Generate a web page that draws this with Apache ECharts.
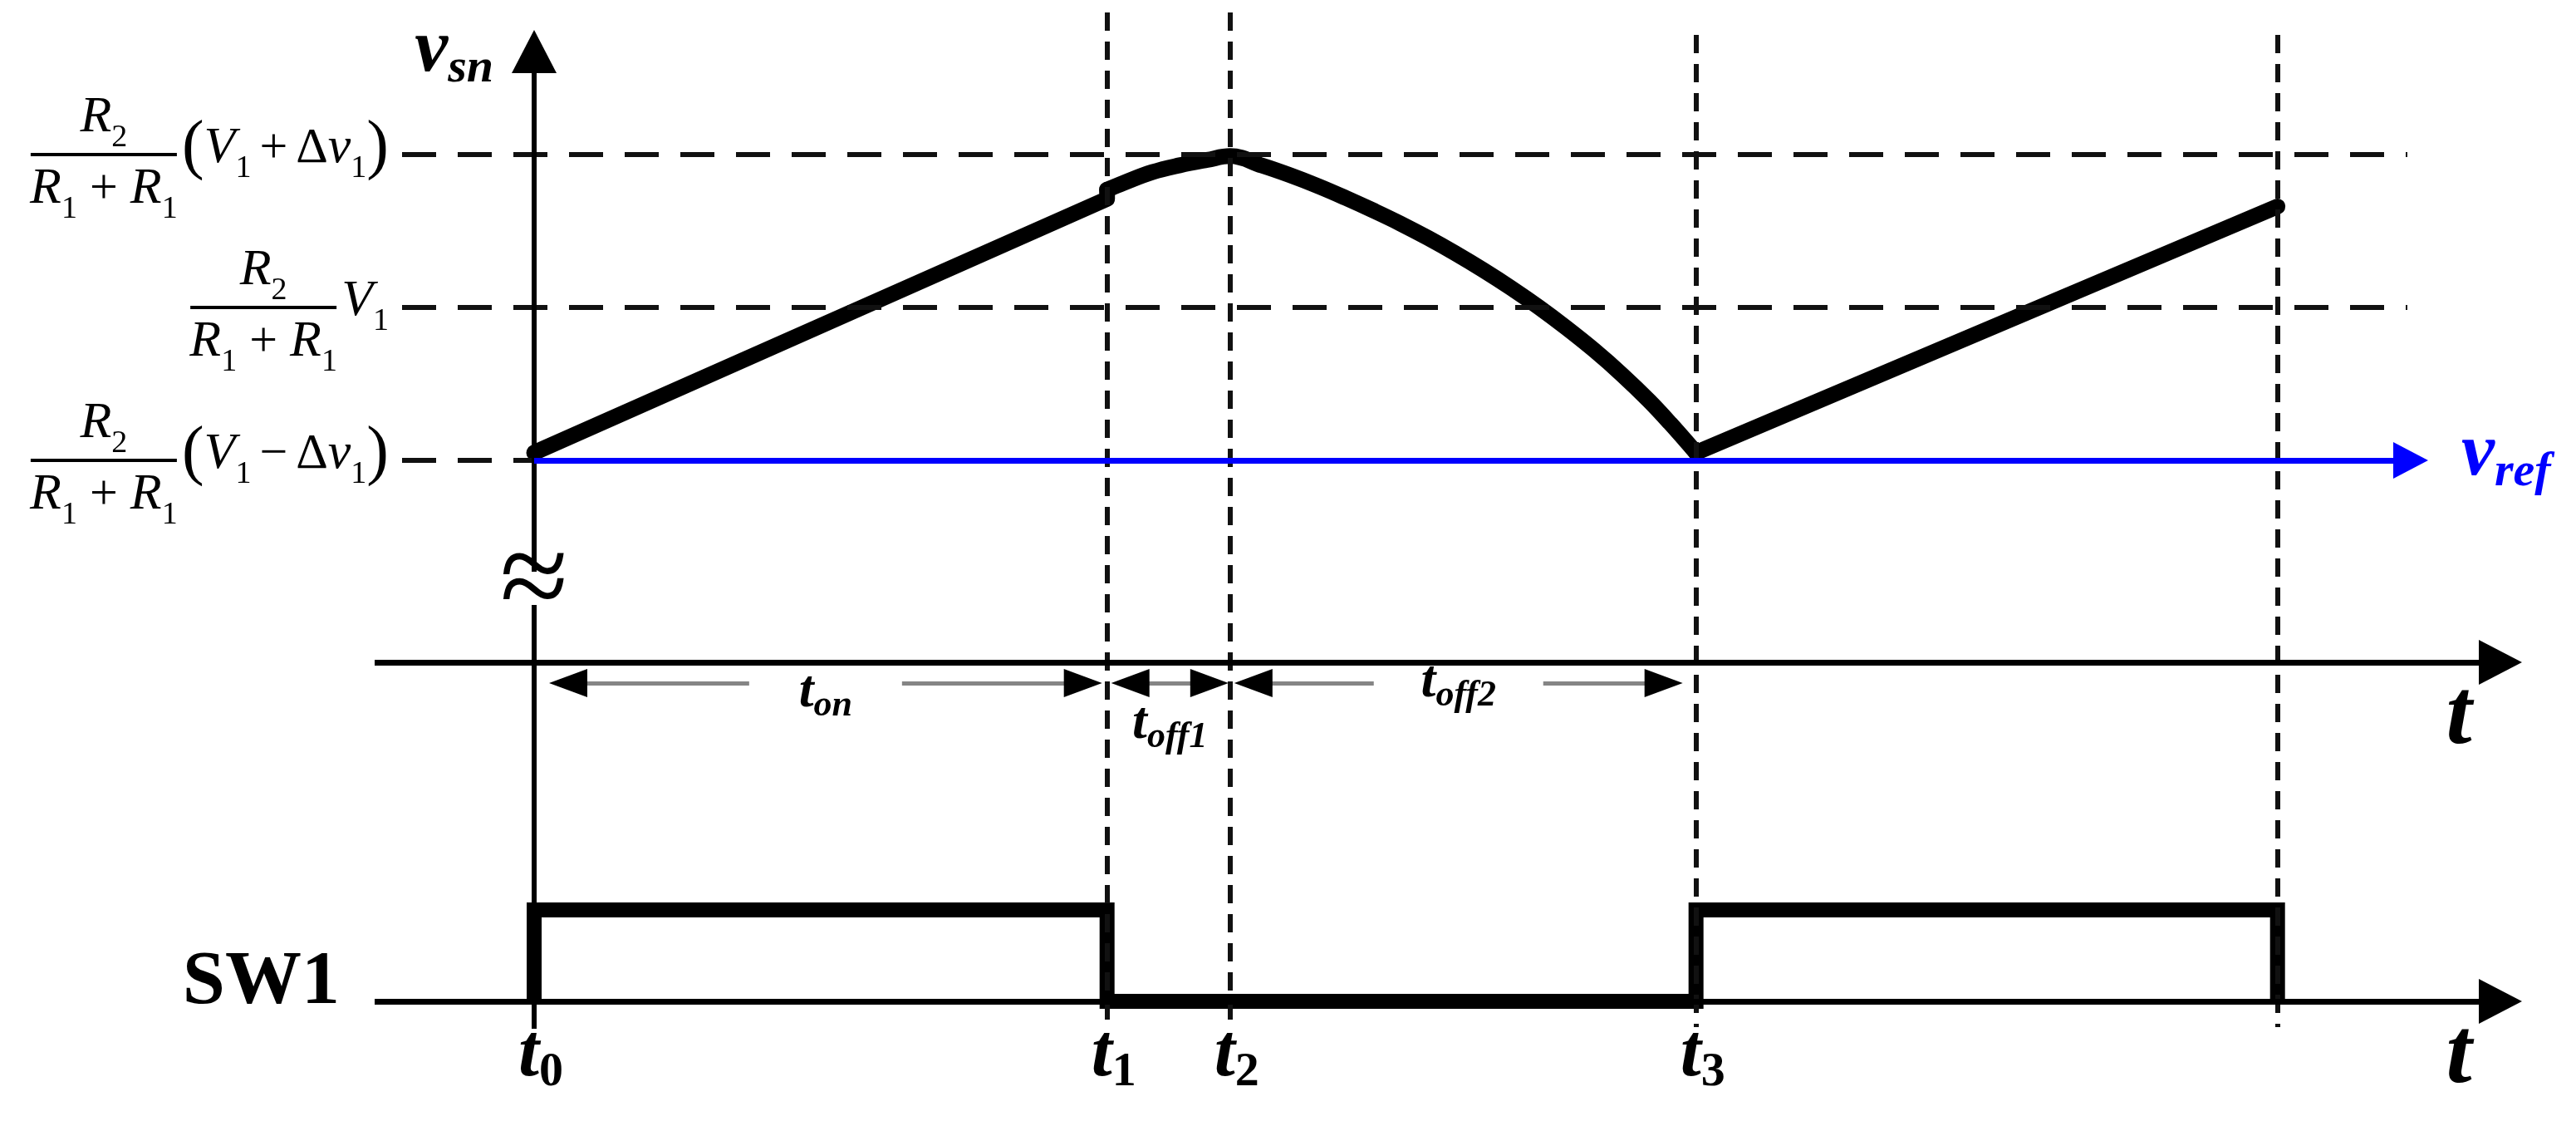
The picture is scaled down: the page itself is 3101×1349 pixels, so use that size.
<!DOCTYPE html>
<html>
<head>
<meta charset="utf-8">
<script src="https://cdn.jsdelivr.net/npm/echarts@6/dist/echarts.min.js"></script>
<style>
  html, body { margin: 0; padding: 0; background: #fff; }
  #chart { width: 3101px; height: 1349px; }
</style>
</head>
<body>
<div id="chart"></div>
<script>
// ---- values ----
// switching instants t0, t1, t2, t3 and the end of the next on-time (time units)
const tMarks = [0, 10.01, 12.16, 20.3, 30.46];
const tNames = ['0', '1', '2', '3'];
// v_sn levels, in units of Δv1 around V1: V1+Δv1, V1, V1-Δv1 (= v_ref)
const levels = [1, 0, -1];

// v_sn during t_on (ends with the small step at t1)
const rampT = [0, 10.01, 10.01];
const rampV = [-0.95, 0.71, 0.77];
// v_sn during t_off1 + t_off2
const offT = [10.01, 10.3, 10.8, 11.28, 11.76, 12.16, 12.72, 13.2, 13.69, 14.17, 14.65,
              15.14, 15.62, 16.1, 16.58, 17.07, 17.56, 18.03, 18.52, 19.0, 19.48, 19.85, 20.3];
const offV = [0.77, 0.815, 0.885, 0.93, 0.965, 0.99, 0.928, 0.866, 0.795, 0.718, 0.636,
              0.548, 0.454, 0.353, 0.245, 0.127, 0.0, -0.132, -0.279, -0.437, -0.61, -0.758, -0.95];
// v_sn during the next t_on
const ramp2T = [20.3, 30.46];
const ramp2V = [-0.95, 0.66];

// SW1 gate signal
const swT = [0, 0, 10.01, 10.01, 20.3, 20.3, 30.46, 30.46];
const swS = [0, 1, 1, 0, 0, 1, 1, 0];

const dimNames = ['on', 'off1', 'off2'];

// ---- layout (pixels) ----
const W = 3101, H = 1349;
const X0 = 643, KX = 68.9;   // px of t = 0, px per time unit
const Y0 = 370, KY = 184;    // px of V1, px per Δv1
const S0 = 1205, KS = 110;   // px of SW1 low, px per state
const ux = px => (px - X0) / KX;
const uv = py => (Y0 - py) / KY;

const AX_LEFT = 451, AX_TIP = 3036, HEAD = 52, HEAD_W = 54;
const TMID_Y = 797, DIM_Y = 822;
const YAX_TIP = 36, YAX_BOT = 1238, BREAK_TOP = 688, BREAK_BOT = 728;
const VREF_TIP = 2923;
const LVL_LEFT = 484, LVL_RIGHT = 2898;
const VL_TOP = [15, 15, 42, 42], VL_BOT = 1236;
const dimInset = [[18, 6], [5, 2], [5, 16]];
const dimGap = [184, 0, 204];
const dimDy = [11, 49, -1];

const SERIF = '"Liberation Serif", "Times New Roman", serif';
const RICH = {
  Ri: { fontFamily: SERIF, fontStyle: 'italic', fontSize: 62, fill: '#000' },
  Rs: { fontFamily: SERIF, fontSize: 38, padding: [48, 0, 0, 0], fill: '#000' },
  Ro: { fontFamily: SERIF, fontSize: 60, padding: [0, 10, 0, 10], fill: '#000' },
  Rd: { fontFamily: SERIF, fontSize: 60, padding: [0, 15, 0, 15], fill: '#000' },
  Rn: { fontFamily: SERIF, fontSize: 60, fill: '#000' },
  Rp: { fontFamily: SERIF, fontSize: 80, fill: '#000' },
  vv: { fontFamily: SERIF, fontStyle: 'italic', fontWeight: 'bold', fontSize: 90, fill: '#000' },
  vs: { fontFamily: SERIF, fontStyle: 'italic', fontWeight: 'bold', fontSize: 58, padding: [42, 0, 0, 0], fill: '#000' },
  bv: { fontFamily: SERIF, fontStyle: 'italic', fontWeight: 'bold', fontSize: 90, fill: '#0000ff' },
  bs: { fontFamily: SERIF, fontStyle: 'italic', fontWeight: 'bold', fontSize: 58, padding: [42, 0, 0, 0], fill: '#0000ff' },
  ta: { fontFamily: SERIF, fontStyle: 'italic', fontWeight: 'bold', fontSize: 112, fill: '#000' },
  tt: { fontFamily: SERIF, fontStyle: 'italic', fontWeight: 'bold', fontSize: 90, fill: '#000' },
  td: { fontFamily: SERIF, fontWeight: 'bold', fontSize: 58, padding: [40, 0, 0, 0], fill: '#000' },
  dt: { fontFamily: SERIF, fontStyle: 'italic', fontWeight: 'bold', fontSize: 64, fill: '#000' },
  ds: { fontFamily: SERIF, fontStyle: 'italic', fontWeight: 'bold', fontSize: 44, padding: [34, 0, 0, 0], fill: '#000' },
  sw: { fontFamily: SERIF, fontWeight: 'bold', fontSize: 92, fill: '#000' },
  ap: { fontFamily: SERIF, fontSize: 150, fill: '#000' }
};

const levelNumer = [['Ri', 'R'], ['Rs', '2']];
const levelDenom = [['Ri', 'R'], ['Rs', '1'], ['Rd', '+'], ['Ri', 'R'], ['Rs', '1']];
const levelFactors = [
  [['Rp', '('], ['Ri', 'V'], ['Rs', '1'], ['Ro', '+'], ['Rn', 'Δ'], ['Ri', 'v'], ['Rs', '1'], ['Rp', ')']],
  [['Ri', 'V'], ['Rs', '1']],
  [['Rp', '('], ['Ri', 'V'], ['Rs', '1'], ['Ro', '−'], ['Rn', 'Δ'], ['Ri', 'v'], ['Rs', '1'], ['Rp', ')']]
];

const mctx = document.createElement('canvas').getContext('2d');
function tokenWidth(tokens) {
  let w = 0;
  tokens.forEach(([s, t]) => {
    const st = RICH[s];
    mctx.font = (st.fontStyle || 'normal') + ' ' + (st.fontWeight || 'normal') + ' ' + st.fontSize + 'px ' + st.fontFamily;
    w += mctx.measureText(t).width;
    if (st.padding) w += st.padding[1] + st.padding[3];
  });
  return w;
}
function richText(tokens) {
  return tokens.map(([s, t]) => '{' + s + '|' + t + '}').join('');
}
function txt(x, y, tokens, align) {
  return {
    type: 'text', x: x, y: y,
    style: { text: richText(tokens), rich: RICH, align: align, verticalAlign: 'middle', fill: '#000' }
  };
}

// markLine segment, optional arrow head at the end
function seg(a, b, style, head) {
  const to = { coord: b };
  if (head) { to.symbol = 'triangle'; to.symbolSize = head; }
  return [{ coord: a, lineStyle: style }, to];
}
const solid = (w, c) => ({ type: 'solid', width: w, color: c || '#000' });
const dashH = { type: [41, 26], width: 6, color: '#111' };
const dashV = { type: [22, 13], width: 6, color: '#111' };

// guides
const guideLines = [];
levels.forEach((v, i) => {
  guideLines.push(seg([ux(LVL_LEFT), v], [i === 2 ? 0 : ux(LVL_RIGHT), v], dashH));
});
tMarks.slice(1).forEach((t, i) => {
  guideLines.push(seg([t, uv(VL_TOP[i])], [t, uv(VL_BOT)], dashV));
});

// axes, v_ref and the time-interval arrows (v_sn units)
const axisLines = [
  seg([0, uv(YAX_BOT)], [0, uv(BREAK_BOT)], solid(6)),
  seg([0, uv(BREAK_TOP)], [0, uv(YAX_TIP + HEAD / 2)], solid(6), [HEAD_W, HEAD]),
  seg([ux(AX_LEFT), uv(TMID_Y)], [ux(AX_TIP - HEAD / 2), uv(TMID_Y)], solid(7), [HEAD_W, HEAD]),
  seg([0, levels[2]], [ux(VREF_TIP - 21), levels[2]], solid(7, '#0000ff'), [44, 42])
];
const dimCenters = [];
const dimY = uv(DIM_Y);
for (let k = 0; k < 3; k++) {
  const L = X0 + KX * tMarks[k] + dimInset[k][0];
  const R = X0 + KX * tMarks[k + 1] - dimInset[k][1];
  const C = (L + R) / 2, g = dimGap[k];
  dimCenters.push(C);
  const gray = solid(5, '#858585');
  if (g > 0) {
    axisLines.push(seg([ux(L + 23), dimY], [ux(C - g / 2), dimY], gray));
    axisLines.push(seg([ux(C + g / 2), dimY], [ux(R - 23), dimY], gray));
  } else {
    axisLines.push(seg([ux(L + 23), dimY], [ux(R - 23), dimY], gray));
  }
  axisLines.push(seg([ux(L + 24), dimY], [ux(L + 23), dimY], solid(1), [34, 46]));
  axisLines.push(seg([ux(R - 24), dimY], [ux(R - 23), dimY], solid(1), [34, 46]));
}
const swAxisLines = [
  seg([ux(AX_LEFT), 0], [ux(AX_TIP - HEAD / 2), 0], solid(7), [HEAD_W, HEAD])
];

function host(yIdx, z, lines) {
  return {
    type: 'line', yAxisIndex: yIdx, data: [], z: z, silent: true, symbol: 'none',
    markLine: {
      silent: true, symbol: 'none', animation: false,
      label: { show: false }, lineStyle: solid(5),
      data: lines
    }
  };
}

// text anchored on the scales
const topLabels = [
  { at: [0, uv(YAX_TIP)], dx: -49, dy: 26, align: 'right', tokens: [['vv', 'v'], ['vs', 'sn']] },
  { at: [ux(VREF_TIP), levels[2]], dx: 40, dy: -6, align: 'left', tokens: [['bv', 'v'], ['bs', 'ref']] },
  { at: [ux(AX_TIP), uv(TMID_Y)], dx: -76, dy: 68, align: 'center', tokens: [['ta', 't']] },
  { at: [0, uv(708)], dx: 0, dy: -4, align: 'center', tokens: [['ap', '≈']] }
].concat(dimNames.map((n, k) => ({
  at: [ux(dimCenters[k]), dimY], dx: 0, dy: dimDy[k], align: 'center', tokens: [['dt', 't'], ['ds', n]]
})));
const swLabels = tMarks.slice(0, 4).map((t, i) => ({
  at: [t, 0], dx: 8, dy: 66, align: 'center', tokens: [['tt', 't'], ['td', tNames[i]]]
})).concat([
  { at: [ux(AX_LEFT), 0], dx: -42, dy: -22, align: 'right', tokens: [['sw', 'SW1']] },
  { at: [ux(AX_TIP), 0], dx: -76, dy: 68, align: 'center', tokens: [['ta', 't']] }
]);

function labelSeries(yIdx, items) {
  return {
    type: 'custom', yAxisIndex: yIdx, z: 5, silent: true, clip: false,
    data: items.map(d => d.at),
    renderItem: function (params, api) {
      const d = items[params.dataIndex];
      const p = api.coord([api.value(0), api.value(1)]);
      return txt(p[0] + d.dx, p[1] + d.dy, d.tokens, d.align);
    }
  };
}

const zip = (xs, ys) => xs.map((x, i) => [x, ys[i]]);
const curveStyle = { color: '#000', width: 19, cap: 'round', join: 'round' };

const chart = echarts.init(document.getElementById('chart'), null, { renderer: 'canvas' });
chart.setOption({
  backgroundColor: '#fff',
  animation: false,
  grid: { left: 0, right: 0, top: 0, bottom: 0 },
  xAxis: { type: 'value', min: ux(0), max: ux(W), show: false },
  yAxis: [
    { type: 'value', min: uv(H), max: uv(0), show: false },
    { type: 'value', min: (S0 - H) / KS, max: S0 / KS, show: false }
  ],
  series: [
    host(0, 1, guideLines),
    host(0, 2, axisLines),
    host(1, 2, swAxisLines),
    { type: 'line', yAxisIndex: 0, z: 3, silent: true, symbol: 'none', data: zip(rampT, rampV), lineStyle: curveStyle },
    { type: 'line', yAxisIndex: 0, z: 3, silent: true, symbol: 'none', smooth: 0.4, data: zip(offT, offV), lineStyle: curveStyle },
    { type: 'line', yAxisIndex: 0, z: 3, silent: true, symbol: 'none', data: zip(ramp2T, ramp2V), lineStyle: curveStyle },
    { type: 'line', yAxisIndex: 1, z: 3, silent: true, symbol: 'none', data: zip(swT, swS),
      lineStyle: { color: '#000', width: 18, join: 'miter', cap: 'butt' } },
    {
      type: 'custom', yAxisIndex: 0, z: 5, silent: true, clip: false,
      data: levels.map(v => [ux(LVL_LEFT), v]),
      renderItem: function (params, api) {
        const i = params.dataIndex;
        const p = api.coord([api.value(0), api.value(1)]);
        const right = p[0] - 16, y = p[1];
        const barR = right - tokenWidth(levelFactors[i]) - 6, barL = barR - 176, cx = (barL + barR) / 2;
        return {
          type: 'group',
          children: [
            { type: 'line', shape: { x1: barL, y1: y, x2: barR, y2: y }, style: { stroke: '#000', lineWidth: 4 } },
            txt(cx, y - 44, levelNumer, 'center'),
            txt(cx, y + 42, levelDenom, 'center'),
            txt(right, y - 7, levelFactors[i], 'right')
          ]
        };
      }
    },
    labelSeries(0, topLabels),
    labelSeries(1, swLabels)
  ]
});
</script>
</body>
</html>
